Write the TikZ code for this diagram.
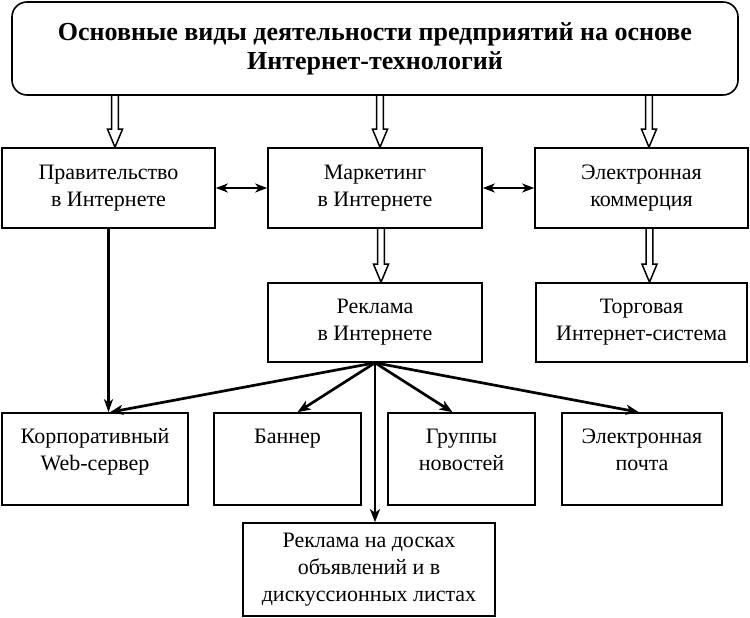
\documentclass[tikz,border=0pt]{standalone}
\usepackage{fontspec}
\setmainfont{Liberation Serif}
\usetikzlibrary{arrows.meta,calc}
\tikzset{
  box/.style={draw, line width=1.6pt, inner sep=0pt, align=center,
    font=\fontsize{22}{27}\selectfont},
  titlebox/.style={draw, line width=1.6pt, rounded corners=15pt, inner sep=0pt,
    align=center, font=\fontsize{26}{29}\selectfont\bfseries},
  dbl/.style={line width=2pt,
    {Stealth[length=12pt,width=9pt,inset=3.5pt]}-{Stealth[length=12pt,width=9pt,inset=3.5pt]}},
  fan/.style={line width=2.7pt, -{Stealth[length=13pt,width=10pt,inset=3.5pt]}},
  vline/.style={line width=2.2pt, -{Stealth[length=13pt,width=9pt,inset=3.5pt]}},
  hollow/.style={line width=1.5pt, line join=miter},
}
\newcommand\hollowarrow[2]{%
  \path #1 coordinate (hastart) #2 coordinate (haend);
  \draw[hollow] ($(hastart)+(-3.4,0)$) -- ($(haend)+(-3.4,-18)$)
    -- ($(haend)+(-7.5,-18)$) -- (haend) -- ($(haend)+(7.5,-18)$)
    -- ($(haend)+(3.4,-18)$) -- ($(hastart)+(3.4,0)$);}
\begin{document}
\begin{tikzpicture}[x=1pt,y=-1pt]
\useasboundingbox (0,0) rectangle (750,618);
\node[titlebox, minimum width=726pt, minimum height=93pt] (top) at (375,48.5)
  {Основные виды деятельности предприятий на основе\\Интернет-технологий};
\node[box, minimum width=213pt, minimum height=80pt] (gov) at (108.5,188) {Правительство\\в Интернете};
\node[box, minimum width=214pt, minimum height=80pt] (mkt) at (375,188) {Маркетинг\\в Интернете};
\node[box, minimum width=213pt, minimum height=80pt] (ecom) at (641.5,188) {Электронная\\коммерция};
\node[box, minimum width=214pt, minimum height=79pt] (adv) at (375,322.5) {Реклама\\в Интернете};
\node[box, minimum width=211pt, minimum height=79pt] (trade) at (641.5,322.5) {Торговая\\Интернет-система};
\node[box, minimum width=186pt, minimum height=92pt] (corp) at (95,459)
  {\parbox[t][92pt][t]{186pt}{\centering\rule{0pt}{30pt}Корпоративный\\Web-сервер}};
\node[box, minimum width=147pt, minimum height=92pt] (banner) at (287.5,459)
  {\parbox[t][92pt][t]{147pt}{\centering\rule{0pt}{30pt}Баннер}};
\node[box, minimum width=147pt, minimum height=92pt] (news) at (461.5,459)
  {\parbox[t][92pt][t]{147pt}{\centering\rule{0pt}{30pt}Группы\\новостей}};
\node[box, minimum width=160pt, minimum height=92pt] (mail) at (642,459)
  {\parbox[t][92pt][t]{160pt}{\centering\rule{0pt}{30pt}Электронная\\почта}};
\node[box, minimum width=252pt, minimum height=93pt] (boards) at (369,569.5)
  {Реклама на досках\\объявлений и в\\дискуссионных листах};
% hollow arrows
\hollowarrow{([xshift=6.5pt]top.south -| gov.north)}{([xshift=6.5pt]gov.north)}
\hollowarrow{([xshift=5pt]top.south -| mkt.north)}{([xshift=5pt]mkt.north)}
\hollowarrow{([xshift=7.5pt]top.south -| ecom.north)}{([xshift=7.5pt]ecom.north)}
\hollowarrow{([xshift=6pt]mkt.south)}{([xshift=6pt]adv.north)}
\hollowarrow{([xshift=8pt]ecom.south)}{([xshift=8pt]trade.north)}
% double arrows
\draw[dbl] (gov.east) -- (mkt.west);
\draw[dbl] (mkt.east) -- (ecom.west);
% vertical line
\coordinate (corpin) at (gov.south |- corp.north);
\draw[vline] (gov.south) -- (corpin);
% fan
\coordinate (bannerin) at ([xshift=10pt]banner.north);
\coordinate (newsin) at ([xshift=-9pt]news.north);
\coordinate (mailin) at ([xshift=-3pt]mail.north);
\coordinate (boardsin) at (adv.south |- boards.north);
\draw[fan] (adv.south) -- ([xshift=1.5pt]corpin);
\draw[fan] (adv.south) -- (bannerin);
\draw[fan] (adv.south) -- (newsin);
\draw[fan] (adv.south) -- (mailin);
\draw[fan] (adv.south) -- (boardsin);
\end{tikzpicture}
\end{document}
